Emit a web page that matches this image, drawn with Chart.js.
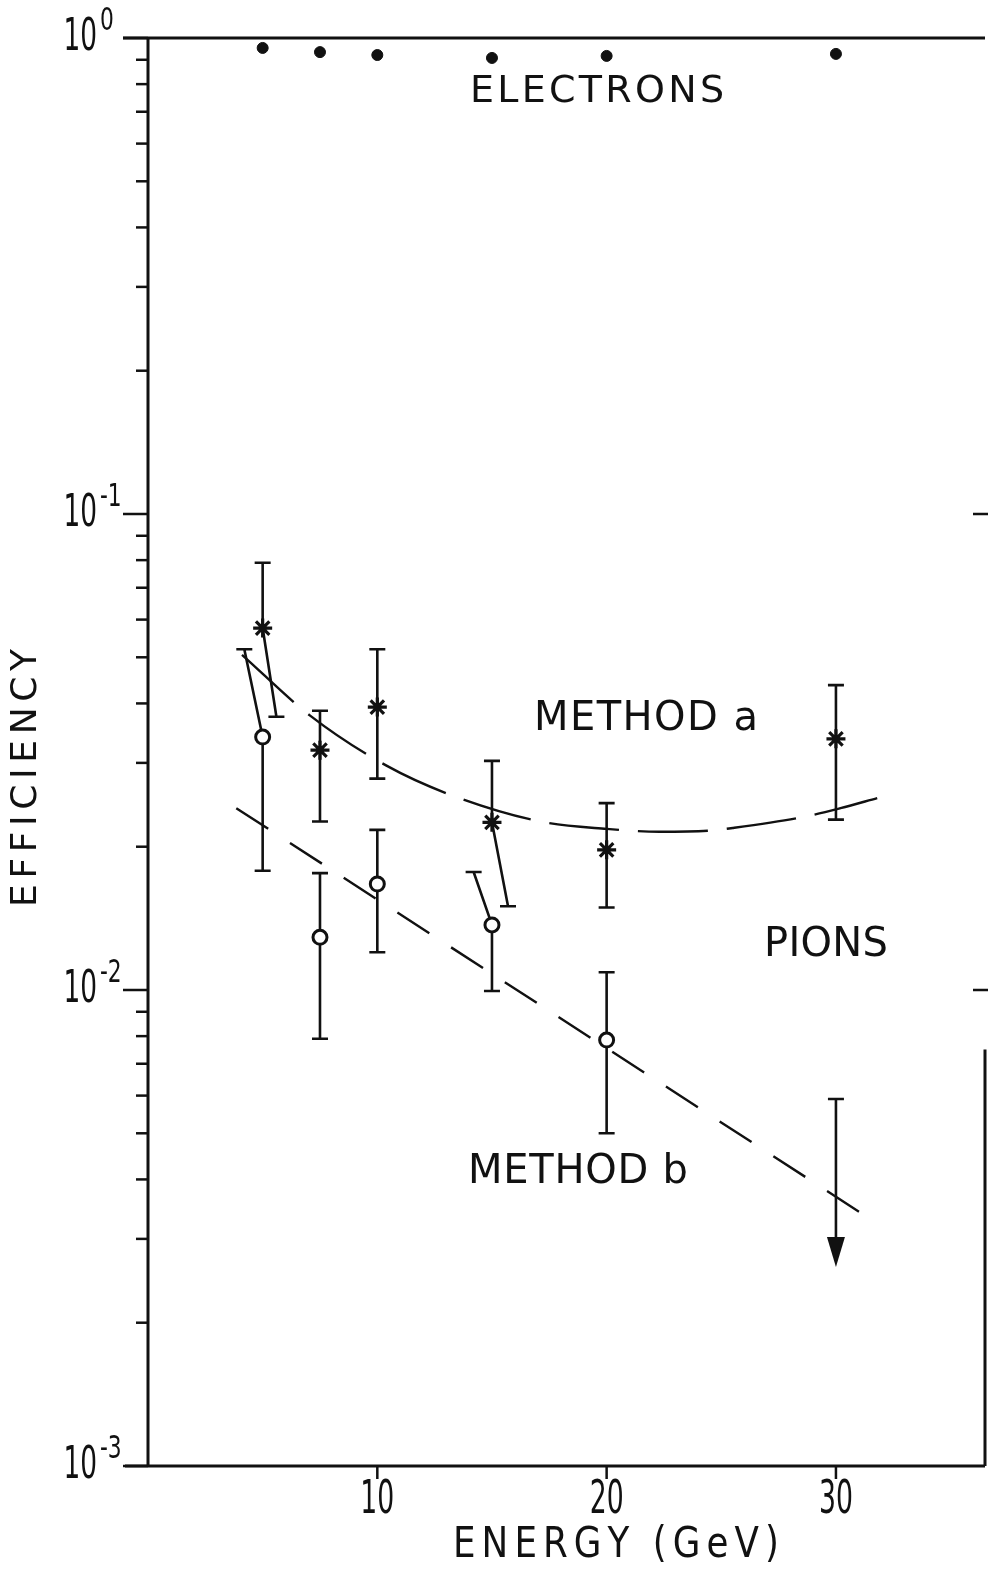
<!DOCTYPE html>
<html>
<head>
<meta charset="utf-8">
<script src="https://cdn.jsdelivr.net/npm/chart.js@4.4.1/dist/chart.umd.min.js"></script>
<style>
  html, body { margin: 0; padding: 0; background: #fff; }
  canvas { display: block; }
</style>
</head>
<body>
<canvas id="chart" width="988" height="1572"></canvas>
<script>
// beam energies (GeV)
const energies = [5, 7.5, 10, 15, 20, 30];

// electrons
const electronEff = [0.953, 0.934, 0.921, 0.908, 0.917, 0.926];

// pions, method a (stars)
const methodAEff = [0.0576, 0.0319, 0.0393, 0.0225, 0.0197, 0.0337];
const methodAHigh = [0.079, 0.0386, 0.052, 0.0303, 0.0247, 0.0437];
const methodALow = [0.0375, 0.0226, 0.0278, 0.015, 0.0149, 0.0228];
// lower bars at 5 and 15 GeV are drawn aslant so they don't hit the circles
const methodALowAt = [5.6, 7.5, 10, 15.7, 20, 30];

// pions, method b (open circles)
const methodBEnergies = [5, 7.5, 10, 15, 20];
const methodBEff = [0.034, 0.0129, 0.0167, 0.0137, 0.00785];
const methodBHigh = [0.052, 0.0176, 0.0217, 0.0177, 0.0109];
const methodBLow = [0.0178, 0.0079, 0.012, 0.00995, 0.005];
const methodBHighAt = [4.2, 7.5, 10, 14.2, 20];

// method b upper limit at 30 GeV
const limitEnergy = [30];
const limitTop = [0.0059];
const limitTip = [0.00262];

// hand drawn curves
const curveAEnergy = [4.1, 7.07, 10.4, 13.2, 17.1, 20.0, 22.3, 24.4, 25.5, 28.4, 30.2, 31.8];
const curveAEff = [0.0506, 0.0377, 0.0296, 0.0257, 0.0226, 0.0218, 0.0215, 0.0216, 0.0219, 0.0230, 0.0241, 0.0253];
const lineBEnergy = [3.85, 31.3];
const lineBEff = [0.0241, 0.00335];

// axes
const yTicks = [1, 0.1, 0.01, 0.001];
const yTickExp = ['0', '-1', '-2', '-3'];
const xTicks = [10, 20, 30];

const ink = '#111';
const FONT = '"DejaVu Sans", sans-serif';

const pts = (xs, ys) => xs.map((v, i) => ({ x: v, y: ys[i] }));

function spaced(ctx, str, cx, cy, size, sx, width, align) {
  ctx.font = size + 'px ' + FONT;
  const chars = [...str];
  const ws = chars.map(c => ctx.measureText(c).width * sx);
  const nat = ws.reduce((a, b) => a + b, 0);
  const total = width || nat;
  const gap = width && chars.length > 1 ? (width - nat) / (chars.length - 1) : 0;
  let xx = cx - total / 2;
  if (align === 'right') xx = cx - total;
  if (align === 'left') xx = cx;
  ctx.textBaseline = 'middle';
  ctx.textAlign = 'left';
  chars.forEach((c, i) => {
    ctx.save();
    ctx.translate(xx, cy);
    ctx.scale(sx, 1);
    ctx.fillText(c, 0, 0);
    ctx.restore();
    xx += ws[i] + gap;
  });
}

function bar(ctx, x, y, fromX, fromY, toX, toY) {
  const px = x.getPixelForValue(toX), py = y.getPixelForValue(toY);
  ctx.beginPath();
  ctx.moveTo(x.getPixelForValue(fromX), y.getPixelForValue(fromY));
  ctx.lineTo(px, py);
  ctx.moveTo(px - 8, py);
  ctx.lineTo(px + 8, py);
  ctx.stroke();
}

const decorations = {
  id: 'decorations',
  beforeDatasetsDraw(chart) {
    const { ctx, scales: { x, y } } = chart;
    ctx.save();
    ctx.strokeStyle = ink;
    ctx.fillStyle = ink;
    ctx.lineWidth = 2.6;
    energies.forEach((e, i) => {
      bar(ctx, x, y, e, methodAEff[i], e, methodAHigh[i]);
      bar(ctx, x, y, e, methodAEff[i], methodALowAt[i], methodALow[i]);
    });
    methodBEnergies.forEach((e, i) => {
      bar(ctx, x, y, e, methodBEff[i], methodBHighAt[i], methodBHigh[i]);
      bar(ctx, x, y, e, methodBEff[i], e, methodBLow[i]);
    });
    limitEnergy.forEach((e, i) => {
      const px = x.getPixelForValue(e);
      const top = y.getPixelForValue(limitTop[i]);
      const tip = y.getPixelForValue(limitTip[i]);
      ctx.beginPath();
      ctx.moveTo(px - 8, top);
      ctx.lineTo(px + 8, top);
      ctx.moveTo(px, top);
      ctx.lineTo(px, tip - 20);
      ctx.stroke();
      ctx.beginPath();
      ctx.moveTo(px - 9, tip - 30);
      ctx.lineTo(px + 9, tip - 30);
      ctx.lineTo(px, tip);
      ctx.closePath();
      ctx.fill();
    });
    ctx.restore();
  },
  afterDraw(chart) {
    const { ctx, chartArea: a, scales: { x, y } } = chart;
    ctx.save();
    ctx.strokeStyle = ink;
    ctx.fillStyle = ink;
    ctx.lineWidth = 3;
    ctx.beginPath();
    ctx.moveTo(a.left, a.top);
    ctx.lineTo(a.left, a.bottom);
    ctx.moveTo(a.left - 23, a.bottom);
    ctx.lineTo(a.right, a.bottom);
    ctx.moveTo(a.left - 25, a.top);
    ctx.lineTo(a.right, a.top);
    // right frame survives only in the lower part of the scan
    ctx.moveTo(a.right, y.getPixelForValue(0.0075));
    ctx.lineTo(a.right, a.bottom);
    ctx.stroke();

    // y ticks
    ctx.lineWidth = 2.5;
    yTicks.forEach((v, i) => {
      const py = y.getPixelForValue(v);
      ctx.beginPath();
      ctx.moveTo(a.left - 25, py);
      ctx.lineTo(a.left, py);
      if (v === 0.1 || v === 0.01) {
        ctx.moveTo(a.right - 12, py);
        ctx.lineTo(a.right + 3, py);
      }
      ctx.stroke();
      if (v > 0.001) {
        for (let m = 2; m <= 9; m++) {
          const my = y.getPixelForValue(v * m / 10);
          ctx.beginPath();
          ctx.moveTo(a.left - 12, my);
          ctx.lineTo(a.left, my);
          ctx.stroke();
        }
      }
      spaced(ctx, '10', 97, py + 1, 44, 0.6, 0, 'right');
      spaced(ctx, yTickExp[i], 100, py - 16, 32, 0.68, 0, 'left');
    });

    // x ticks
    xTicks.forEach(v => {
      const px = x.getPixelForValue(v);
      ctx.beginPath();
      ctx.moveTo(px, a.bottom);
      ctx.lineTo(px, a.bottom + 13);
      ctx.stroke();
      spaced(ctx, String(v), px, 1501, 46, 0.58, 0);
    });

    // axis titles
    spaced(ctx, 'ENERGY (GeV)', 616, 1546, 42, 0.85, 326);
    ctx.save();
    ctx.translate(27, 778);
    ctx.rotate(-Math.PI / 2);
    spaced(ctx, 'EFFICIENCY', 0, 0, 36, 1, 258);
    ctx.restore();

    // labels inside the plot
    spaced(ctx, 'ELECTRONS', 597, 92, 38, 1, 254);
    spaced(ctx, 'METHOD a', 646, 720, 40, 1, 224);
    spaced(ctx, 'PIONS', 826, 946, 40, 1, 124);
    spaced(ctx, 'METHOD b', 578, 1173, 40, 1, 220);
    ctx.restore();
  }
};

new Chart(document.getElementById('chart'), {
  type: 'scatter',
  data: {
    datasets: [
      {
        label: 'Method b',
        data: pts(methodBEnergies, methodBEff),
        pointStyle: 'circle',
        pointRadius: 7,
        pointBackgroundColor: '#fff',
        pointBorderColor: ink,
        pointBorderWidth: 3,
        order: 0
      },
      {
        label: 'Method a',
        data: pts(energies, methodAEff),
        pointStyle: 'star',
        pointRadius: 9.5,
        pointBorderColor: ink,
        pointBorderWidth: 3.2,
        order: 1
      },
      {
        label: 'Electrons',
        data: pts(energies, electronEff),
        pointStyle: 'circle',
        pointRadius: 5.5,
        pointBackgroundColor: ink,
        pointBorderColor: ink,
        order: 2
      },
      {
        label: 'curve a',
        data: pts(curveAEnergy, curveAEff),
        showLine: true,
        cubicInterpolationMode: 'monotone',
        borderColor: ink,
        borderWidth: 2.4,
        borderDash: [70, 19],
        pointRadius: 0,
        order: 3
      },
      {
        label: 'line b',
        data: pts(lineBEnergy, lineBEff),
        showLine: true,
        borderColor: ink,
        borderWidth: 2.4,
        borderDash: [38, 26],
        pointRadius: 0,
        order: 3
      }
    ]
  },
  options: {
    responsive: false,
    animation: false,
    devicePixelRatio: 1,
    layout: { autoPadding: false, padding: { left: 148, right: 3, top: 38, bottom: 106 } },
    scales: {
      x: { type: 'linear', min: 0, max: 36.5, display: false },
      y: { type: 'logarithmic', min: 0.001, max: 1, display: false }
    },
    plugins: {
      legend: { display: false },
      tooltip: { enabled: false }
    }
  },
  plugins: [decorations]
});
</script>
</body>
</html>
